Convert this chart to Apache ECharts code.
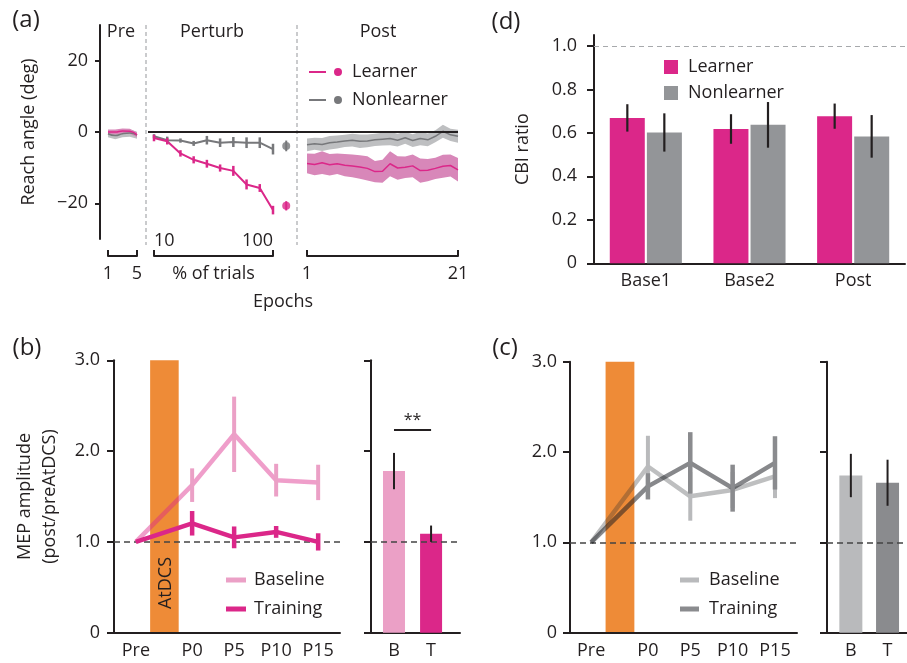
<!DOCTYPE html>
<html><head><meta charset="utf-8">
<script src="https://cdn.jsdelivr.net/npm/echarts@6/dist/echarts.min.js"></script>
<style>html,body{margin:0;padding:0;background:#fff}#c{width:907px;height:663px}</style>
</head><body><div id="c"></div>
<script>
// ---------- Panel (a): reach angle ----------
const preEpochs = [1, 2, 3, 4, 5];
const preLearner = [0.0, 0.0, 0.3, 0.2, -0.8];
const preLearnerSem = [0.7, 0.7, 0.7, 0.7, 0.7];
const preNonlearner = [-0.5, -1.0, -0.5, -0.3, -0.9];
const preNonlearnerSem = [1.0, 1.0, 1.0, 1.0, 1.0];

const perturbPct = [10, 20, 30, 40, 50, 60, 70, 80, 90, 100];
const perturbLearner = [-1.7, -2.6, -6.0, -7.8, -8.9, -10.1, -10.9, -14.7, -15.7, -21.9];
const perturbLearnerSem = [0.9, 0.9, 0.9, 1.0, 1.1, 1.0, 1.4, 1.4, 1.1, 1.2];
const perturbNonlearner = [-1.2, -2.3, -2.4, -3.2, -2.3, -3.0, -2.8, -3.0, -3.0, -4.8];
const perturbNonlearnerSem = [0.6, 1.0, 0.6, 0.7, 1.2, 1.2, 1.4, 1.5, 1.5, 1.5];
const catchPct = [110];
const catchLearner = [-20.7];
const catchLearnerSem = [1.3];
const catchNonlearner = [-3.9];
const catchNonlearnerSem = [1.5];

const postEpochs = [1, 2, 3, 4, 5, 6, 7, 8, 9, 10, 11, 12, 13, 14, 15, 16, 17, 18, 19, 20, 21];
const postLearner = [-8.8, -9.1, -8.6, -9.2, -8.9, -9.3, -9.5, -9.8, -10.2, -11.1, -11.0, -8.9, -10.1, -9.9, -9.5, -10.8, -10.7, -10.2, -9.6, -9.4, -10.6];
const postLearnerSem = [2.8, 3.0, 3.2, 3.0, 2.9, 3.1, 3.2, 3.3, 3.4, 3.0, 3.2, 3.5, 3.3, 3.0, 3.2, 3.4, 3.1, 3.0, 3.2, 3.1, 3.3];
const postNonlearner = [-3.6, -3.3, -3.5, -3.0, -2.8, -2.5, -2.3, -2.6, -2.5, -2.2, -2.0, -1.8, -2.3, -1.6, -2.4, -1.8, -2.2, -1.2, 0.2, -0.8, -1.2];
const postNonlearnerSem = [1.8, 1.7, 1.8, 1.9, 1.8, 1.7, 1.8, 1.9, 1.8, 1.7, 1.8, 1.9, 1.8, 1.7, 1.8, 1.9, 1.8, 1.7, 1.8, 1.7, 1.8];
const reachTicks = [-20, 0, 20];

// ---------- Panel (d): CBI ratio ----------
const cbiCategories = ['Base1', 'Base2', 'Post'];
const cbiLearner = [0.669, 0.618, 0.677];
const cbiLearnerSem = [0.063, 0.068, 0.058];
const cbiNonlearner = [0.602, 0.637, 0.584];
const cbiNonlearnerSem = [0.088, 0.105, 0.098];
const cbiTicks = [0, 0.2, 0.4, 0.6, 0.8, 1.0];

// ---------- Panels (b) and (c): MEP amplitude ----------
const mepLabels = ['Pre', 'P0', 'P5', 'P10', 'P15'];
const mepTime = [-6.7, 0, 5, 10, 15];
const mepMax = 3;
const atdcsSpan = [-5, -1.6];
const bBaseline = [1.0, 1.625, 2.185, 1.68, 1.655];
const bBaselineSem = [0, 0.185, 0.415, 0.18, 0.195];
const bTraining = [1.0, 1.205, 1.05, 1.11, 1.00];
const bTrainingSem = [0, 0.135, 0.12, 0.065, 0.095];
const barLabels = ['B', 'T'];
const barPos = [1, 2];
const bBarValues = [1.78, 1.09];
const bBarSem = [0.2, 0.09];
const bSigLevel = 2.23;
const bSigLabel = '**';

const cBaseline = [1.0, 1.84, 1.51, 1.58, 1.73];
const cBaselineSem = [0, 0.34, 0.27, 0.2, 0.24];
const cTraining = [1.0, 1.62, 1.88, 1.60, 1.88];
const cTrainingSem = [0, 0.145, 0.34, 0.26, 0.295];
const cBarValues = [1.74, 1.66];
const cBarSem = [0.24, 0.255];

// ---------- styles ----------
const FONT = '"Open Sans", "Noto Sans", sans-serif';
const AX = '#231F20';
const MAG = '#DB2789';
const PINK_BAND = '#D887B9';
const GRAY_LINE = '#77787B';
const GRAY_BAND = '#BEBFC1';
const GRAY_BAR = '#939598';
const PALE_PINK = '#EBA0C6';
const LIGHT_GRAY = '#B9BABC';
const DARK_GRAY = '#8A8B8E';
const ORANGE = '#EE8B37';

const zip = (xs, ys) => xs.map((x, i) => [x, ys[i]]);
const zip3 = (xs, ys, es) => xs.map((x, i) => [x, ys[i], es[i]]).filter(d => d[2] > 0);
const lab = { color: AX, fontSize: 18, fontFamily: FONT };
const axisLineS = { show: true, onZero: false, lineStyle: { color: AX, width: 2 } };
const tickS = (len, inside) => ({ show: true, length: len, inside: !!inside, lineStyle: { color: AX, width: 2 } });
const fmt1 = v => (Math.abs(v) < 1e-9 ? '0' : v.toFixed(1));

function errRender(color, width, dx) {
  return function (params, api) {
    const x = api.value(0), y = api.value(1), e = api.value(2);
    const a = api.coord([x, y + e]);
    const b = api.coord([x, y - e]);
    return { type: 'line', shape: { x1: a[0] + dx, y1: a[1], x2: b[0] + dx, y2: b[1] },
      style: { stroke: color, lineWidth: width } };
  };
}
function errSeries(idx, xs, ys, es, color, width, dx, z) {
  return { type: 'custom', xAxisIndex: idx, yAxisIndex: idx, data: zip3(xs, ys, es),
    encode: { x: 0, y: 1 }, renderItem: errRender(color, width, dx || 0), clip: false, silent: true, z: z || 4 };
}
// shaded mean ± sem band drawn as one polygon through the axis scales
function band(idx, xs, mean, sem, color) {
  return { type: 'custom', xAxisIndex: idx, yAxisIndex: idx, silent: true, z: 1, clip: false,
    data: xs.map((x, i) => [x, mean[i] - sem[i], mean[i] + sem[i]]),
    encode: { x: 0, y: [1, 2] },
    renderItem: function (params, api) {
      if (params.dataIndex !== 0) return null;
      const up = [], lo = [];
      for (let i = 0; i < xs.length; i++) {
        up.push(api.coord([xs[i], mean[i] + sem[i]]));
        lo.push(api.coord([xs[i], mean[i] - sem[i]]));
      }
      return { type: 'polygon', shape: { points: up.concat(lo.reverse()) }, style: { fill: color } };
    } };
}
// AtDCS stimulation period, full height of the axis; multiply blend keeps lines visible through it
function stimSeries(idx) {
  return { type: 'custom', xAxisIndex: idx, yAxisIndex: idx, silent: true, z: 0, blendMode: 'multiply',
    data: [[atdcsSpan[0], atdcsSpan[1]]],
    renderItem: function (params, api) {
      const a = api.coord([api.value(0), mepMax]);
      const b = api.coord([api.value(1), 0]);
      return { type: 'rect', shape: { x: a[0], y: a[1], width: b[0] - a[0], height: b[1] - a[1] },
        style: { fill: ORANGE, blend: 'multiply' } };
    } };
}
function meanLine(idx, name, xs, ys, color, width, smooth, z) {
  return { type: 'line', name: name, xAxisIndex: idx, yAxisIndex: idx, data: zip(xs, ys), symbol: 'none',
    smooth: !!smooth, lineStyle: { color: color, width: width },
    itemStyle: { color: color }, z: z || 3 };
}
const dashedOne = () => ({ silent: true, symbol: ['none', 'none'], label: { show: false },
  lineStyle: { color: '#444', width: 1.5, type: [6, 4] }, data: [{ yAxis: 1 }] });

const LN_ICON = 'path://M0,3 L17,3 L17,5 L0,5 Z M25,4 A4,4 0 1 1 33,4 A4,4 0 1 1 25,4 Z';

const hidden = (i, min, max) => ({ gridIndex: i, type: 'value', min: min, max: max, show: false });

const option = {
  animation: false,
  backgroundColor: 'transparent',
  textStyle: { fontFamily: FONT, color: AX },
  grid: [
    { left: 108, top: 25, width: 29, height: 214 },
    { left: 154, top: 25, width: 119, height: 214 },
    { left: 307, top: 25, width: 151, height: 214 },
    { left: 148, top: 25, width: 310, height: 214 },
    { left: 594, top: 35.1, width: 311, height: 228.2 },
    { left: 114, top: 360.3, width: 226, height: 272.4 },
    { left: 371, top: 360.3, width: 89, height: 272.4 },
    { left: 570, top: 361.7, width: 227, height: 271 },
    { left: 827, top: 361.7, width: 80, height: 271 }
  ],
  xAxis: [
    { gridIndex: 0, type: 'value', min: 1, max: 5, offset: 17, axisLine: axisLineS,
      axisTick: Object.assign(tickS(6, true), { customValues: [1, 5] }),
      axisLabel: Object.assign({}, lab, { margin: 9, customValues: [1, 5] }), splitLine: { show: false } },
    { gridIndex: 1, type: 'value', min: 10, max: 100, offset: 17, axisLine: axisLineS,
      axisTick: Object.assign(tickS(6, true), { customValues: [10, 100] }),
      axisLabel: Object.assign({}, lab, { inside: true, margin: 6, customValues: [10, 100], alignMinLabel: 'left', alignMaxLabel: 'right' }),
      splitLine: { show: false }, name: '% of trials', nameLocation: 'middle', nameGap: 9, nameTextStyle: lab },
    { gridIndex: 2, type: 'value', min: 1, max: 21, offset: 17, axisLine: axisLineS,
      axisTick: Object.assign(tickS(6, true), { customValues: [1, 21] }),
      axisLabel: Object.assign({}, lab, { margin: 9, customValues: [1, 21] }), splitLine: { show: false } },
    hidden(3, 0, 1),
    { gridIndex: 4, type: 'category', data: cbiCategories, axisLine: axisLineS, axisTick: { show: false },
      axisLabel: Object.assign({}, lab, { margin: 9 }) },
    { gridIndex: 5, type: 'value', min: -9.3, max: 17.6, axisLine: axisLineS, axisTick: { show: false },
      axisLabel: Object.assign({}, lab, { margin: 9, customValues: mepTime,
        formatter: v => mepLabels[mepTime.findIndex(t => Math.abs(t - v) < 1e-6)] }), splitLine: { show: false } },
    { gridIndex: 6, type: 'value', min: 0.38, max: 2.78, axisLine: axisLineS, axisTick: { show: false },
      axisLabel: Object.assign({}, lab, { margin: 9, customValues: barPos,
        formatter: v => barLabels[barPos.findIndex(t => Math.abs(t - v) < 1e-6)] }), splitLine: { show: false } },
    { gridIndex: 7, type: 'value', min: -9.2, max: 17.6, axisLine: axisLineS, axisTick: { show: false },
      axisLabel: Object.assign({}, lab, { margin: 9, customValues: mepTime,
        formatter: v => mepLabels[mepTime.findIndex(t => Math.abs(t - v) < 1e-6)] }), splitLine: { show: false } },
    { gridIndex: 8, type: 'value', min: 0.35, max: 2.53, axisLine: axisLineS, axisTick: { show: false },
      axisLabel: Object.assign({}, lab, { margin: 9, customValues: barPos,
        formatter: v => barLabels[barPos.findIndex(t => Math.abs(t - v) < 1e-6)] }), splitLine: { show: false } }
  ],
  yAxis: [
    { gridIndex: 0, type: 'value', min: -30, max: 30, offset: 8, axisLine: axisLineS,
      axisTick: Object.assign(tickS(5), { customValues: reachTicks }),
      axisLabel: Object.assign({}, lab, { margin: 12, customValues: reachTicks,
        formatter: v => (v < 0 ? '\u2212' + Math.abs(v) : String(v)) }),
      splitLine: { show: false }, name: 'Reach angle (deg)', nameLocation: 'middle', nameGap: 62, nameRotate: 90, nameTextStyle: lab },
    hidden(1, -30, 30), hidden(2, -30, 30), hidden(3, -30, 30),
    { gridIndex: 4, type: 'value', min: 0, max: 1.05, axisLine: axisLineS,
      axisTick: Object.assign(tickS(7), { customValues: cbiTicks }),
      axisLabel: Object.assign({}, lab, { margin: 17, customValues: cbiTicks, formatter: fmt1 }),
      splitLine: { show: false }, name: 'CBI ratio', nameLocation: 'middle', nameGap: 62, nameRotate: 90, nameTextStyle: lab },
    { gridIndex: 5, type: 'value', min: 0, max: mepMax, interval: 1, axisLine: axisLineS, axisTick: tickS(7),
      axisLabel: Object.assign({}, lab, { margin: 14, formatter: fmt1 }), splitLine: { show: false },
      name: 'MEP amplitude\n(post/preAtDCS)', nameLocation: 'middle', nameGap: 52, nameRotate: 90,
      nameTextStyle: Object.assign({}, lab, { lineHeight: 25 }) },
    { gridIndex: 6, type: 'value', min: 0, max: mepMax, interval: 1, axisLine: axisLineS, axisTick: tickS(7),
      axisLabel: { show: false }, splitLine: { show: false } },
    { gridIndex: 7, type: 'value', min: 0, max: mepMax, interval: 1, axisLine: axisLineS, axisTick: tickS(7),
      axisLabel: Object.assign({}, lab, { margin: 13, formatter: fmt1 }), splitLine: { show: false } },
    { gridIndex: 8, type: 'value', min: 0, max: mepMax, interval: 1, axisLine: axisLineS, axisTick: tickS(7),
      axisLabel: { show: false }, splitLine: { show: false } }
  ],
  legend: [
    { left: 309, top: 63, orient: 'vertical', padding: 0, itemGap: 10, itemWidth: 33, itemHeight: 8, selectedMode: false,
      textStyle: Object.assign({}, lab, { padding: [0, 0, 0, 5] }),
      data: [ { name: 'Learner', icon: LN_ICON, itemStyle: { color: MAG, borderWidth: 0, opacity: 1 } },
              { name: 'Nonlearner', icon: LN_ICON, itemStyle: { color: GRAY_LINE, borderWidth: 0, opacity: 1 } } ] },
    { left: 664, top: 58, orient: 'vertical', padding: 0, itemGap: 8, itemWidth: 14, itemHeight: 14, selectedMode: false,
      textStyle: Object.assign({}, lab, { padding: [0, 0, 0, 5] }),
      data: [ { name: 'Learner', icon: 'rect', itemStyle: { color: MAG, borderWidth: 0, opacity: 1 } },
              { name: 'Nonlearner', icon: 'rect', itemStyle: { color: GRAY_BAR, borderWidth: 0, opacity: 1 } } ] },
    { left: 226, top: 571, orient: 'vertical', padding: 0, itemGap: 11, itemWidth: 20, itemHeight: 5, selectedMode: false,
      textStyle: Object.assign({}, lab, { padding: [0, 0, 0, 3] }),
      data: [ { name: 'Baseline', icon: 'rect', itemStyle: { color: PALE_PINK, borderWidth: 0, opacity: 1 } },
              { name: 'Training', icon: 'rect', itemStyle: { color: MAG, borderWidth: 0, opacity: 1 } } ] },
    { left: 680, top: 571, orient: 'vertical', padding: 0, itemGap: 11, itemWidth: 19, itemHeight: 5, selectedMode: false,
      textStyle: Object.assign({}, lab, { padding: [0, 0, 0, 5] }),
      data: [ { name: 'Baseline', icon: 'rect', itemStyle: { color: LIGHT_GRAY, borderWidth: 0, opacity: 1 } },
              { name: 'Training', icon: 'rect', itemStyle: { color: DARK_GRAY, borderWidth: 0, opacity: 1 } } ] }
  ],
  graphic: [
    { type: 'text', x: 26, y: 20, style: { text: '(a)', fontSize: 24, fontFamily: FONT, fill: AX, align: 'center', verticalAlign: 'middle' } },
    { type: 'text', x: 506, y: 22, style: { text: '(d)', fontSize: 24, fontFamily: FONT, fill: AX, align: 'center', verticalAlign: 'middle' } },
    { type: 'text', x: 27, y: 348, style: { text: '(b)', fontSize: 24, fontFamily: FONT, fill: AX, align: 'center', verticalAlign: 'middle' } },
    { type: 'text', x: 505, y: 348, style: { text: '(c)', fontSize: 24, fontFamily: FONT, fill: AX, align: 'center', verticalAlign: 'middle' } },
    { type: 'text', x: 121, y: 32, style: { text: 'Pre', fontSize: 18, fontFamily: FONT, fill: AX, align: 'center', verticalAlign: 'middle' } },
    { type: 'text', x: 212, y: 32, style: { text: 'Perturb', fontSize: 18, fontFamily: FONT, fill: AX, align: 'center', verticalAlign: 'middle' } },
    { type: 'text', x: 378, y: 32, style: { text: 'Post', fontSize: 18, fontFamily: FONT, fill: AX, align: 'center', verticalAlign: 'middle' } },
    { type: 'text', x: 283, y: 302, style: { text: 'Epochs', fontSize: 18, fontFamily: FONT, fill: AX, align: 'center', verticalAlign: 'middle' } },
    { type: 'text', x: 165.5, y: 583, rotation: Math.PI / 2, z: 100,
      style: { text: 'AtDCS', fontSize: 18, fontFamily: FONT, fill: AX, align: 'center', verticalAlign: 'middle' } },
    { type: 'line', shape: { x1: 146, y1: 25, x2: 146, y2: 245 }, style: { stroke: '#A7A9AC', lineWidth: 1.2, lineDash: [4, 3] } },
    { type: 'line', shape: { x1: 297, y1: 25, x2: 297, y2: 245 }, style: { stroke: '#A7A9AC', lineWidth: 1.2, lineDash: [4, 3] } }
  ],
  series: [].concat(
    // AtDCS periods drawn first (lowest)
    [ stimSeries(5), stimSeries(7) ],
    // (a) pre
    [ band(0, preEpochs, preNonlearner, preNonlearnerSem, GRAY_BAND),
      band(0, preEpochs, preLearner, preLearnerSem, PINK_BAND),
      meanLine(0, 'Nonlearner', preEpochs, preNonlearner, GRAY_LINE, 1.5, true),
      meanLine(0, 'Learner', preEpochs, preLearner, MAG, 1.5, true) ],
    // (a) perturb
    [ meanLine(1, 'Nonlearner', perturbPct, perturbNonlearner, GRAY_LINE, 2),
      errSeries(1, perturbPct, perturbNonlearner, perturbNonlearnerSem, GRAY_LINE, 2.5),
      meanLine(1, 'Learner', perturbPct, perturbLearner, MAG, 2),
      errSeries(1, perturbPct, perturbLearner, perturbLearnerSem, MAG, 2.5),
      { type: 'scatter', xAxisIndex: 1, yAxisIndex: 1, data: zip(catchPct, catchNonlearner), symbolSize: 8, clip: false, itemStyle: { color: GRAY_LINE }, z: 4 },
      errSeries(1, catchPct, catchNonlearner, catchNonlearnerSem, GRAY_LINE, 2),
      { type: 'scatter', xAxisIndex: 1, yAxisIndex: 1, data: zip(catchPct, catchLearner), symbolSize: 8, clip: false, itemStyle: { color: MAG }, z: 4 },
      errSeries(1, catchPct, catchLearner, catchLearnerSem, MAG, 2) ],
    // (a) post
    [ band(2, postEpochs, postNonlearner, postNonlearnerSem, GRAY_BAND),
      band(2, postEpochs, postLearner, postLearnerSem, PINK_BAND),
      meanLine(2, 'Nonlearner', postEpochs, postNonlearner, GRAY_LINE, 1.5),
      meanLine(2, 'Learner', postEpochs, postLearner, MAG, 1.5) ],
    // (a) zero line
    [ { type: 'line', xAxisIndex: 3, yAxisIndex: 3, data: [[0, 0], [1, 0]], symbol: 'none', lineStyle: { width: 0, opacity: 0 }, silent: true,
        markLine: { silent: true, symbol: ['none', 'none'], label: { show: false }, lineStyle: { color: AX, width: 2, type: 'solid' }, data: [{ yAxis: 0 }] } } ],
    // (d)
    [ { type: 'bar', name: 'Learner', xAxisIndex: 4, yAxisIndex: 4, data: cbiLearner, barWidth: 35, barGap: '6%', itemStyle: { color: MAG },
        markLine: { silent: true, symbol: ['none', 'none'], label: { show: false }, lineStyle: { color: '#A7A9AC', width: 1.2, type: [5, 4] }, data: [{ yAxis: 1 }] } },
      { type: 'bar', name: 'Nonlearner', xAxisIndex: 4, yAxisIndex: 4, data: cbiNonlearner, barWidth: 35, barGap: '6%', itemStyle: { color: GRAY_BAR } },
      errSeries(4, [0, 1, 2], cbiLearner, cbiLearnerSem, AX, 2.2, -18.5, 6),
      errSeries(4, [0, 1, 2], cbiNonlearner, cbiNonlearnerSem, AX, 2.2, 18.5, 6) ],
    // (b) main
    [ meanLine(5, 'Baseline', mepTime, bBaseline, 'rgba(219,39,137,0.45)', 4.5, false, 8),
      errSeries(5, mepTime, bBaseline, bBaselineSem, PALE_PINK, 4, 0, 9),
      Object.assign(meanLine(5, 'Training', mepTime, bTraining, MAG, 4.5, false, 10), { markLine: dashedOne() }),
      errSeries(5, mepTime, bTraining, bTrainingSem, MAG, 4.5, 0, 11) ],
    // (b) bars
    [ { type: 'bar', xAxisIndex: 6, yAxisIndex: 6, barWidth: 22,
        data: [ { value: [barPos[0], bBarValues[0]], itemStyle: { color: PALE_PINK } }, { value: [barPos[1], bBarValues[1]], itemStyle: { color: MAG } } ],
        markLine: { silent: true, symbol: ['none', 'none'],
          data: [ { yAxis: 1, label: { show: false }, lineStyle: { color: '#444', width: 1.5, type: [6, 4] } },
                  [ { coord: [barPos[0], bSigLevel], label: { show: true, formatter: bSigLabel, position: 'middle', fontSize: 16, color: AX, distance: 2 }, lineStyle: { color: AX, width: 2, type: 'solid' } },
                    { coord: [barPos[1], bSigLevel] } ] ] } },
      errSeries(6, barPos, bBarValues, bBarSem, AX, 2, 0, 6) ],
    // (c) main
    [ meanLine(7, 'Baseline', mepTime, cBaseline, 'rgba(40,42,48,0.3)', 4.5, false, 8),
      errSeries(7, mepTime, cBaseline, cBaselineSem, LIGHT_GRAY, 4, 0, 9),
      Object.assign(meanLine(7, 'Training', mepTime, cTraining, 'rgba(25,27,32,0.52)', 4.5, false, 10), { markLine: dashedOne() }),
      errSeries(7, mepTime, cTraining, cTrainingSem, DARK_GRAY, 4.5, 0, 11) ],
    // (c) bars
    [ { type: 'bar', xAxisIndex: 8, yAxisIndex: 8, barWidth: 23,
        data: [ { value: [barPos[0], cBarValues[0]], itemStyle: { color: LIGHT_GRAY } }, { value: [barPos[1], cBarValues[1]], itemStyle: { color: DARK_GRAY } } ],
        markLine: { silent: true, symbol: ['none', 'none'], label: { show: false }, lineStyle: { color: '#444', width: 1.5, type: [6, 4] }, data: [{ yAxis: 1 }] } },
      errSeries(8, barPos, cBarValues, cBarSem, AX, 2, 0, 6) ]
  )
};

const chart = echarts.init(document.getElementById('c'), null, { renderer: 'canvas' });
chart.setOption(option);
</script>
</body></html>
